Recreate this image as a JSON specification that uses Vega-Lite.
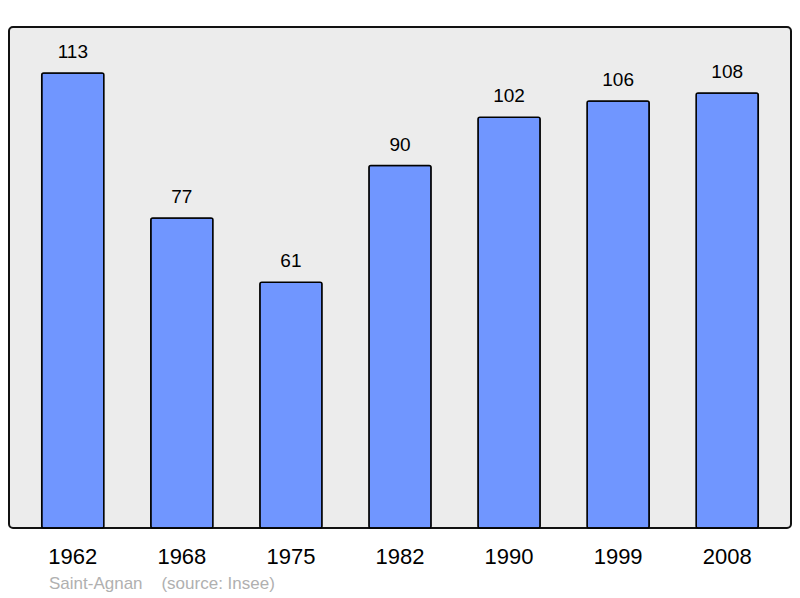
{
  "$schema": "https://vega.github.io/schema/vega-lite/v6.json",
  "autosize": "none",
  "width": 782,
  "height": 501,
  "padding": {"left": 9, "top": 27, "right": 9, "bottom": 70},
  "background": "white",
  "data": {"values": [
    {"year": "1962", "pop": 113},
    {"year": "1968", "pop": 77},
    {"year": "1975", "pop": 61},
    {"year": "1982", "pop": 90},
    {"year": "1990", "pop": 102},
    {"year": "1999", "pop": 106},
    {"year": "2008", "pop": 108}
  ]},
  "title": {
    "text": "Saint-Agnan\u00a0\u00a0\u00a0\u00a0(source: Insee)",
    "orient": "bottom",
    "anchor": "start",
    "dx": 40,
    "offset": 9,
    "font": "Liberation Sans",
    "fontSize": 17,
    "fontWeight": "normal",
    "color": "#b0b0b0"
  },
  "config": {
    "view": {"fill": "#ececec", "stroke": "#111111", "strokeWidth": 2, "cornerRadius": 4},
    "font": "Liberation Sans"
  },
  "encoding": {
    "x": {
      "field": "year", "type": "ordinal",
      "scale": {"paddingInner": 0.43, "paddingOuter": 0.3},
      "axis": {"title": null, "labelAngle": 0, "labelFontSize": 22, "labelColor": "#000000", "labelFont": "Liberation Sans", "ticks": false, "tickSize": 0, "domain": false, "labelPadding": 18}
    },
    "y": {
      "field": "pop", "type": "quantitative",
      "scale": {"domain": [0, 124.4], "nice": false},
      "axis": null
    }
  },
  "layer": [
    {
      "mark": {"type": "bar", "color": "#7096ff", "stroke": "#000000", "strokeWidth": 1.5, "cornerRadius": 2}
    },
    {
      "mark": {"type": "text", "baseline": "bottom", "dy": -11, "fontSize": 19, "color": "#000000", "font": "Liberation Sans"},
      "encoding": {"text": {"field": "pop", "type": "quantitative"}}
    }
  ]
}
